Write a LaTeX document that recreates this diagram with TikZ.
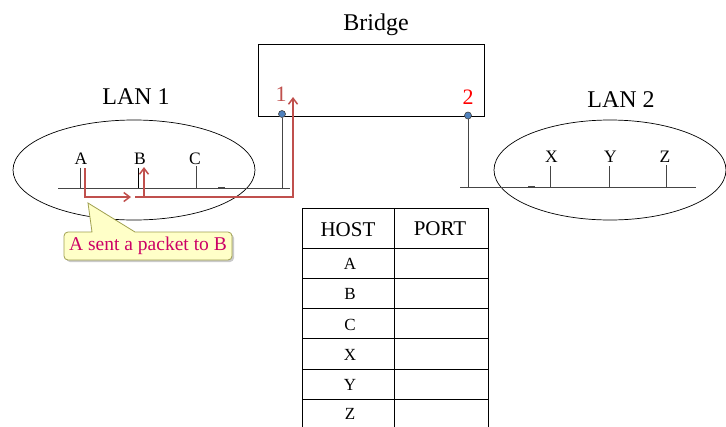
\documentclass[tikz,border=0pt]{standalone}
\usepackage{fontspec}
\setmainfont{Liberation Serif}
\usetikzlibrary{arrows.meta,shadows}
\definecolor{pkt}{HTML}{C0504D}
\definecolor{msgc}{HTML}{CC0066}
\definecolor{portc}{HTML}{4F81BD}
\definecolor{wire}{HTML}{454545}
\definecolor{callfill}{HTML}{FFFFC8}
\definecolor{calldraw}{HTML}{A0A050}
\begin{document}
\begin{tikzpicture}[x=1pt,y=-1pt,
  wireline/.style={draw=wire,line width=1pt},
  thinline/.style={draw=black,line width=0.7pt},
  pktline/.style={draw=pkt,line width=1.5pt,-{Straight Barb[length=6pt,width=9pt,line width=1.5pt]}},
  portdot/.style={circle,inner sep=0pt,minimum size=7pt,fill=portc,draw=black!75,line width=0.6pt},
  hostlbl/.style={inner sep=1pt,font=\fontsize{17.5}{19}\selectfont},
  biglbl/.style={inner sep=0pt,font=\fontsize{24}{28}\selectfont},
  hdrlbl/.style={inner sep=0pt,font=\fontsize{21}{24}\selectfont},
  celllbl/.style={inner sep=0pt,font=\fontsize{17}{19}\selectfont}]
\useasboundingbox (0,0) rectangle (726,426);

% Bridge
\node[thinline,draw,minimum width=226pt,minimum height=72pt,inner sep=0pt] (bridge) at (371,80) {};
\node[biglbl] (bridgelbl) at (376,25) {Bridge};
\node[portdot] (p1) at (282,114) {};
\node[portdot] (p2) at (468,115.5) {};
\node[inner sep=0pt,text=pkt,font=\fontsize{22}{24}\selectfont] (l1) at (281,94) {1};
\node[inner sep=0pt,text=red,font=\fontsize{22}{24}\selectfont] (l2) at (468,97) {2};

% LAN 1
\draw[thinline] (134,170) ellipse [x radius=121pt, y radius=50pt];
\node[biglbl] (lan1lbl) at (136,97) {LAN 1};
\coordinate (b1l) at (58,188);
\coordinate (b1r) at (290,188);
\draw[wireline] (b1l) -- (b1r);
\draw[wireline] (p1.south) -- (p1 |- b1l);
\node[hostlbl] (hA) at (81,158.5) {A};
\node[hostlbl] (hB) at (140,158.5) {B};
\node[hostlbl] (hC) at (195,158.5) {C};
\coordinate (sA) at (80,167.5);
\coordinate (sB) at (138.5,167.5);
\coordinate (sC) at (196,166);
\draw[wireline] (sA) -- (sA |- b1l);
\draw[black,line width=1pt] (sB) -- (sB |- b1l);
\draw[wireline] (sC) -- (sC |- b1l);
\coordinate (m1a) at (218,188);
\coordinate (m1b) at (225,188);
\draw[wire,line width=2pt] (m1a) -- (m1b);

% LAN 2
\draw[thinline] (610,170) ellipse [x radius=116pt, y radius=50pt];
\node[biglbl] (lan2lbl) at (621,100) {LAN 2};
\coordinate (b2l) at (460,187);
\coordinate (b2r) at (696,187);
\draw[wireline] (b2l) -- (b2r);
\draw[wireline] (p2.south) -- (p2 |- b2l);
\node[hostlbl] (hX) at (551.5,156.5) {X};
\node[hostlbl] (hY) at (610.5,156.5) {Y};
\node[hostlbl] (hZ) at (665,156.5) {Z};
\coordinate (sX) at (550,166);
\coordinate (sY) at (609,166);
\coordinate (sZ) at (666.5,165);
\draw[wireline] (sX) -- (sX |- b2l);
\draw[wireline] (sY) -- (sY |- b2l);
\draw[wireline] (sZ) -- (sZ |- b2l);
\coordinate (m2a) at (528,187);
\coordinate (m2b) at (535,187);
\draw[wire,line width=2pt] (m2a) -- (m2b);

% packet path
\coordinate (r0) at (85,168);
\coordinate (r1) at (85,197);
\coordinate (r2) at (131,197);
\draw[pktline] (r0) -- (r1) -- (r2);
\coordinate (q0) at (135,197);
\coordinate (q1) at (293,197);
\coordinate (q2) at (293,97);
\draw[pktline] (q0) -- (q1) -- (q2);
\coordinate (qb0) at (144,197);
\coordinate (qb1) at (144,167);
\draw[pktline] (qb0) -- (qb1);

% callout
\coordinate (tip) at (88,203);
\draw[fill=callfill,draw=calldraw,line width=0.8pt,
  drop shadow={shadow xshift=2pt,shadow yshift=-2pt,opacity=0.35,fill=black!60}]
  (tip) -- (135,232) [rounded corners=4pt] -- (232,232) -- (232,260) -- (64,260) -- (64,232) [sharp corners] -- (92,232) -- cycle;
\node[inner sep=0pt,text=msgc,font=\fontsize{19.5}{21}\selectfont] (msg) at (148,246) {A sent a packet to B};

% table
\draw[thinline] (302,208) -- (488,208);
\foreach \yy in {248,278,308,338,369,399} { \draw[thinline] (302,\yy) -- (488,\yy); }
\draw[thinline] (302,208) -- (302,430);
\draw[thinline] (394,208) -- (394,430);
\draw[thinline] (488,208) -- (488,430);
\node[hdrlbl] (th) at (348,230) {HOST};
\node[hdrlbl] (tp) at (440,229) {PORT};
\node[celllbl] (tA) at (350,264) {A};
\node[celllbl] (tB) at (350,294) {B};
\node[celllbl] (tC) at (350,324.5) {C};
\node[celllbl] (tX) at (350,354.5) {X};
\node[celllbl] (tY) at (350,385) {Y};
\node[celllbl] (tZ) at (350,414) {Z};
\end{tikzpicture}
\end{document}
